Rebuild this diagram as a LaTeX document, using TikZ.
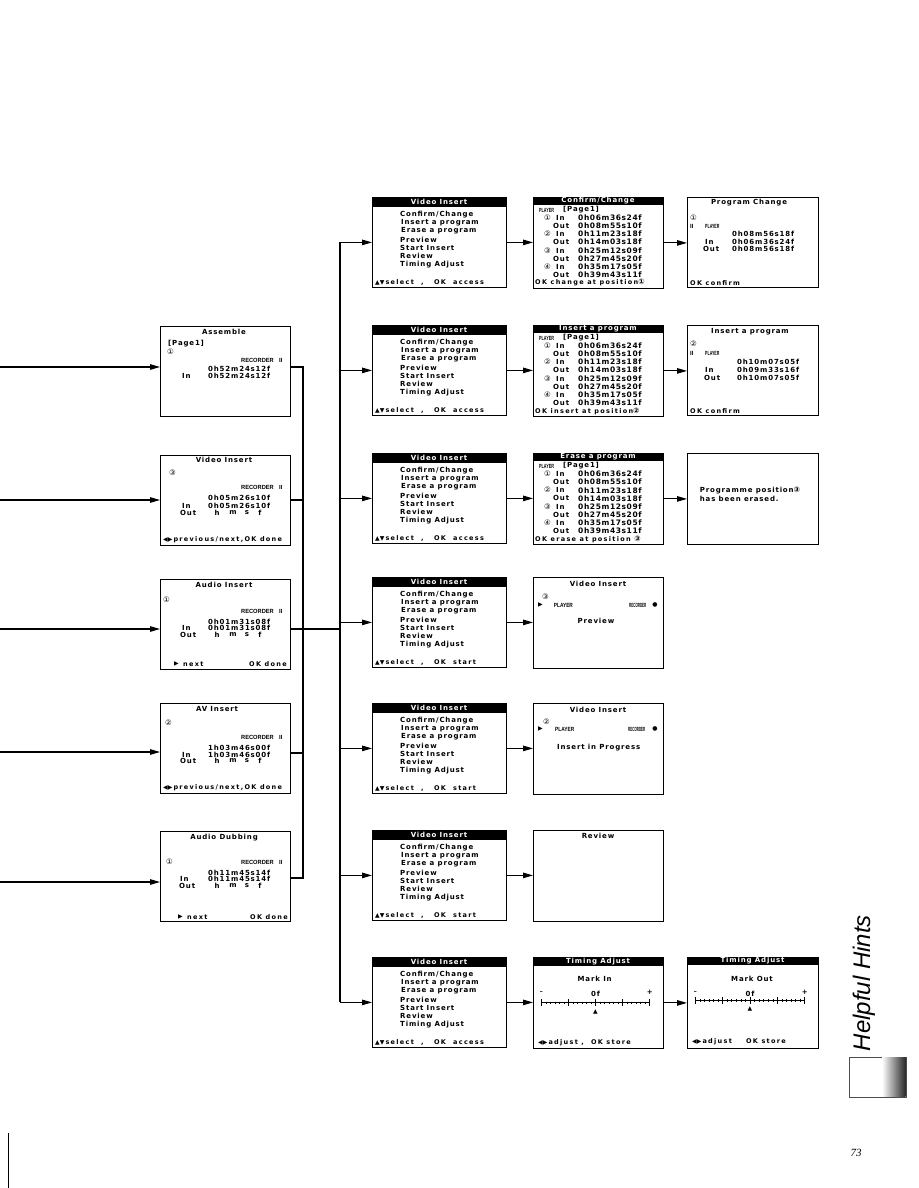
\documentclass[tikz,border=0pt]{standalone}
\usepackage{fontspec}
\usepackage{graphicx}
\usetikzlibrary{arrows.meta}
\newfontfamily\osdfam[LetterSpace=12]{DejaVu Sans}
\newfontfamily\osdfooter[LetterSpace=20]{DejaVu Sans}
\newfontfamily\osdtime[LetterSpace=8]{DejaVu Sans}
\newfontfamily\symfam{DejaVu Sans}
\newfontfamily\narfam{Liberation Sans}
\newfontfamily\hintfam{Liberation Sans}
\newfontfamily\numfam{Liberation Serif}
\newcommand\os{\osdfam\bfseries\fontsize{7}{8}\selectfont}
\newcommand\osb{\osdtime\bfseries\fontsize{7.5}{8}\selectfont}
\newcommand\osf{\osdfooter\bfseries\fontsize{6.5}{7}\selectfont}
\newcommand\cn[1]{{\symfam\fontsize{7.5}{8}\selectfont#1}}
\newcommand\sy[1]{{\symfam\fontsize{6}{6}\selectfont#1}}
\newcommand\nar[2]{{\narfam\bfseries\fontsize{6}{6}\selectfont\scalebox{#1}[1]{#2}}}
\tikzset{
 scr/.style={draw,line width=0.8pt,inner sep=0pt,anchor=north west},
 tl/.style={anchor=west,inner sep=0pt,font=\os},
 tc/.style={anchor=center,inner sep=0pt,font=\os},
 tt/.style={anchor=west,inner sep=0pt,font=\osb},
 tf/.style={anchor=west,inner sep=0pt,font=\osf},
 sl/.style={anchor=west,inner sep=0pt},
 wire/.style={line width=1.1pt},
 arr/.style={line width=1.1pt,-{Triangle[length=10pt,width=5.5pt]}},
}
\newcommand\vimenu[4]{%
\begin{scope}[shift={(#2,#3)}]
\node[scr,minimum width=134pt,minimum height=90pt] (#1) at (0,0) {};
\fill (0,0) rectangle (134,9.5);
\node[tc,white] at (67,4.8) {Video Insert};
\node[tl] at (28,17.5) {Confirm/Change};
\node[tl] at (29,25.8) {Insert a program};
\node[tl] at (29,34.1) {Erase a program};
\node[tl] at (28,42.4) {Preview};
\node[tl] at (28,50.7) {Start Insert};
\node[tl] at (28,59) {Review};
\node[tl] at (28,67.3) {Timing Adjust};
\node[tf] at (3,85) {\sy{▲▼}\,select\ \ ,\ \ \ OK\ \ #4};
\end{scope}}
\newcommand\plist[5]{%
\begin{scope}[shift={(#2,#3)}]
\node[scr,minimum width=130pt,minimum height=91pt] (#1) at (0,0) {};
\fill (0,0) rectangle (130,8);
\node[tc,white] at (65,4) {#4};
\node[sl] at (6,13) {\nar{0.62}{PLAYER}};
\node[tl] at (30,13) {[Page1]};
\node[sl] at (11,21) {\cn{①}};
\node[tl] at (23,21) {In};
\node[tt] at (45,21) {0h06m36s24f};
\node[tl] at (20,29) {Out};
\node[tt] at (45,29) {0h08m55s10f};
\node[sl] at (11,37.2) {\cn{②}};
\node[tl] at (23,37.2) {In};
\node[tt] at (45,37.2) {0h11m23s18f};
\node[tl] at (20,45.2) {Out};
\node[tt] at (45,45.2) {0h14m03s18f};
\node[sl] at (11,53.5) {\cn{③}};
\node[tl] at (23,53.5) {In};
\node[tt] at (45,53.5) {0h25m12s09f};
\node[tl] at (20,61.5) {Out};
\node[tt] at (45,61.5) {0h27m45s20f};
\node[sl] at (11,70) {\cn{④}};
\node[tl] at (23,70) {In};
\node[tt] at (45,70) {0h35m17s05f};
\node[tl] at (20,78) {Out};
\node[tt] at (45,78) {0h39m43s11f};
\node[tf] at (2,86) {#5};
\end{scope}}
\newcommand\tscale[3]{%
\draw[line width=0.9pt] (#1,#3) -- (#2,#3);
\foreach \i in {0,...,24}{\draw[line width=0.6pt] ({#1+(#2-#1)*\i/24},{#3-1.2}) -- ({#1+(#2-#1)*\i/24},{#3+1.2});}
\foreach \i in {0,6,12,18,24}{\draw[line width=0.8pt] ({#1+(#2-#1)*\i/24},{#3-3.5}) -- ({#1+(#2-#1)*\i/24},{#3+3.5});}}
\newcommand\hmsf[1]{%
\node[tc] at (57,#1) {h};
\node[tc] at (73,#1) {m};
\node[tc] at (87,#1) {s};
\node[tc] at (100,#1) {f};}
\newcommand\recii[1]{%
\node[anchor=east,inner sep=0pt] at (114,#1) {\nar{0.95}{RECORDER}};
\node[sl] at (119,#1) {\nar{1}{II}};}
\begin{document}
\begin{tikzpicture}[x=1pt,y=-1pt]
\useasboundingbox (0,0) rectangle (918,1188);
\fill[white] (0,0) rectangle (918,1188);

% ---------------- left column ----------------
\begin{scope}[shift={(160,326)}]
\node[scr,minimum width=130pt,minimum height=90pt] (asm) at (0,0) {};
\node[tc] at (64,5.5) {Assemble};
\node[tl] at (8,17.5) {[Page1]};
\node[sl] at (7,26) {\cn{①}};
\recii{34.5}
\node[tl] at (48,42.5) {0h52m24s12f};
\node[tl] at (22,50) {In};
\node[tl] at (48,50) {0h52m24s12f};
\end{scope}

\begin{scope}[shift={(160,455)}]
\node[scr,minimum width=130pt,minimum height=90pt] (lvi) at (0,0) {};
\node[tc] at (64,4.8) {Video Insert};
\node[sl] at (9,18) {\cn{③}};
\recii{32.5}
\node[tl] at (48,43) {0h05m26s10f};
\node[tl] at (22,50.5) {In};
\node[tl] at (48,50.5) {0h05m26s10f};
\node[tl] at (20,58) {Out};
\hmsf{58}
\node[tf] at (3,84.5) {\sy{◀▶}\,previous/next,OK done};
\end{scope}

\begin{scope}[shift={(160,579)}]
\node[scr,minimum width=130pt,minimum height=90pt] (ain) at (0,0) {};
\node[tc] at (64,5.5) {Audio Insert};
\node[sl] at (3,21) {\cn{①}};
\recii{32.5}
\node[tl] at (48,42.5) {0h01m31s08f};
\node[tl] at (22,49) {In};
\node[tl] at (48,49) {0h01m31s08f};
\node[tl] at (20,55.5) {Out};
\hmsf{55.5}
\node[sl] at (14,85) {\sy{▶}};
\node[tf] at (23,85) {next};
\node[tf] at (89,85) {OK done};
\end{scope}

\begin{scope}[shift={(160,703)}]
\node[scr,minimum width=130pt,minimum height=90pt] (avi) at (0,0) {};
\node[tc] at (57,6) {AV Insert};
\node[sl] at (5,20) {\cn{②}};
\recii{34}
\node[tl] at (48,45) {1h03m46s00f};
\node[tl] at (22,51.5) {In};
\node[tl] at (48,51.5) {1h03m46s00f};
\node[tl] at (20,58) {Out};
\hmsf{58}
\node[tf] at (3,84.6) {\sy{◀▶}\,previous/next,OK done};
\end{scope}

\begin{scope}[shift={(160,831)}]
\node[scr,minimum width=130pt,minimum height=90pt] (dub) at (0,0) {};
\node[tc] at (64,6.5) {Audio Dubbing};
\node[sl] at (6,31) {\cn{①}};
\recii{31}
\node[tl] at (48,41.5) {0h11m45s14f};
\node[tl] at (20,48) {In};
\node[tl] at (48,48) {0h11m45s14f};
\node[tl] at (19,55) {Out};
\hmsf{55}
\node[sl] at (18,86) {\sy{▶}};
\node[tf] at (27,86) {next};
\node[tf] at (90,86) {OK done};
\end{scope}

% ---------------- column 2 ----------------
\vimenu{m1}{372}{197}{access}
\vimenu{m2}{372}{325}{access}
\vimenu{m3}{372}{453}{access}
\vimenu{m4}{372}{577}{start}
\vimenu{m5}{372}{703}{start}
\vimenu{m6}{372}{830}{start}
\vimenu{m7}{372}{957}{access}

% ---------------- column 3 ----------------
\plist{c1}{533}{197}{Confirm/Change}{OK change at position\cn{①}}
\plist{c2}{533}{325}{Insert a program}{OK insert at position\cn{②}}
\plist{c3}{533}{453}{Erase a program}{OK erase at position \cn{③}}

\begin{scope}[shift={(533,577)}]
\node[scr,minimum width=130pt,minimum height=91pt] (c4) at (0,0) {};
\node[tc] at (65,6.7) {Video Insert};
\node[sl] at (9,20) {\cn{③}};
\node[sl] at (5,28.3) {\sy{▶}};
\node[sl] at (20.7,28.3) {\nar{0.8}{PLAYER}};
\node[sl] at (96,28.3) {\nar{0.5}{RECORDER}};
\node[inner sep=0pt] at (122,28.3) {\sy{●}};
\node[tc] at (63,44) {Preview};
\end{scope}

\begin{scope}[shift={(533,703)}]
\node[scr,minimum width=130pt,minimum height=91pt] (c5) at (0,0) {};
\node[tc] at (65,6.7) {Video Insert};
\node[sl] at (10,18.3) {\cn{②}};
\node[sl] at (5,26) {\sy{▶}};
\node[sl] at (22,26) {\nar{0.8}{PLAYER}};
\node[sl] at (95,26) {\nar{0.5}{RECORDER}};
\node[inner sep=0pt] at (122,26) {\sy{●}};
\node[tc] at (65.7,44.3) {Insert in Progress};
\end{scope}

\begin{scope}[shift={(533,830)}]
\node[scr,minimum width=130pt,minimum height=91pt] (c6) at (0,0) {};
\node[tc] at (65,5.5) {Review};
\end{scope}

\begin{scope}[shift={(533,957)}]
\node[scr,minimum width=130pt,minimum height=91pt] (c7) at (0,0) {};
\fill (0,0) rectangle (130,8.5);
\node[tc,white] at (65,4.3) {Timing Adjust};
\node[tc] at (61.7,21.7) {Mark In};
\node[tc] at (8.3,35.5) {\sy{–}};
\node[tc] at (62.5,37) {0f};
\node[tc] at (116.7,35.5) {+};
\tscale{8.3}{116.7}{45.7}
\node[inner sep=0pt] at (62.5,55) {\sy{▲}};
\node[tf] at (5,85.7) {\sy{◀▶}\,adjust\ ,\ \ OK store};
\end{scope}

% ---------------- column 4 ----------------
\begin{scope}[shift={(687,197)}]
\node[scr,minimum width=131pt,minimum height=90pt] (d1) at (0,0) {};
\node[tc] at (62,6) {Program Change};
\node[sl] at (3,21) {\cn{①}};
\node[sl] at (3,29) {\nar{1}{II}};
\node[sl] at (18,29) {\nar{0.6}{PLAYER}};
\node[tl] at (45,37) {0h08m56s18f};
\node[tl] at (18,45) {In};
\node[tl] at (45,45) {0h06m36s24f};
\node[tl] at (16,52) {Out};
\node[tl] at (45,52) {0h08m56s18f};
\node[tf] at (3,86) {OK confirm};
\end{scope}

\begin{scope}[shift={(687,325)}]
\node[scr,minimum width=131pt,minimum height=90pt] (d2) at (0,0) {};
\node[tc] at (63,6.7) {Insert a program};
\node[sl] at (3,19) {\cn{②}};
\node[sl] at (3,28) {\nar{1}{II}};
\node[sl] at (18,28) {\nar{0.6}{PLAYER}};
\node[tl] at (50,37) {0h10m07s05f};
\node[tl] at (18,45) {In};
\node[tl] at (50,45) {0h09m33s16f};
\node[tl] at (17,53) {Out};
\node[tl] at (50,53) {0h10m07s05f};
\node[tf] at (3,86) {OK confirm};
\end{scope}

\begin{scope}[shift={(687,453)}]
\node[scr,minimum width=131pt,minimum height=91pt] (d3) at (0,0) {};
\node[tl] at (12.7,38) {Programme position\cn{③}};
\node[tl] at (12.7,46) {has been erased.};
\end{scope}

\begin{scope}[shift={(687,957)}]
\node[scr,minimum width=131pt,minimum height=91pt] (d7) at (0,0) {};
\fill (0,0) rectangle (131,8);
\node[tc,white] at (65.5,4) {Timing Adjust};
\node[tc] at (65,21.7) {Mark Out};
\node[tc] at (8.3,35.5) {\sy{–}};
\node[tc] at (63,37) {0f};
\node[tc] at (117.7,35.5) {+};
\tscale{8.3}{117.7}{43.3}
\node[inner sep=0pt] at (63,52) {\sy{▲}};
\node[tf] at (5,84.3) {\sy{◀▶}\,adjust\ \ \ \ OK store};
\end{scope}

% ---------------- connectors ----------------
\coordinate (s1) at (0,367);
\coordinate (s2) at (0,500);
\coordinate (s3) at (0,629);
\coordinate (s4) at (0,752);
\coordinate (s5) at (0,882);
\draw[arr] (s1) -- (s1 -| asm.west);
\draw[arr] (s2) -- (s2 -| lvi.west);
\draw[arr] (s3) -- (s3 -| ain.west);
\draw[arr] (s4) -- (s4 -| avi.west);
\draw[arr] (s5) -- (s5 -| dub.west);

\coordinate (j1) at (303,367);
\coordinate (j2) at (303,500);
\coordinate (j3) at (303,629);
\coordinate (j4) at (303,753);
\coordinate (j5) at (303,878);
\draw[wire] (j1 -| asm.east) -- (j1) -- (j5) -- (j5 -| dub.east);
\draw[wire] (j2 -| lvi.east) -- (j2);
\draw[wire] (j4 -| avi.east) -- (j4);

\coordinate (btop) at (340,242);
\coordinate (bbot) at (340,1002);
\coordinate (bmid) at (340,629);
\draw[wire] (btop) -- (bbot);
\draw[wire] (j3 -| ain.east) -- (bmid);
\foreach \m in {m1,m2,m3,m4,m5,m6,m7}{\draw[arr] (\m.west -| btop) -- (\m.west);}
\foreach \m/\c in {m1/c1,m2/c2,m3/c3,m4/c4,m5/c5,m6/c6,m7/c7}{\draw[arr] (\m.east) -- (\m.east -| \c.west);}
\foreach \c/\d in {c1/d1,c2/d2,c3/d3,c7/d7}{\draw[arr] (\c.east) -- (\c.east -| \d.west);}

% ---------------- side tab and page ----------------
\node[rotate=90,anchor=base,inner sep=0pt,font=\hintfam\itshape\fontsize{24}{24}\selectfont] (hh) at (870,983) {Helpful Hints};
\node[draw=black!70,line width=0.6pt,minimum width=57pt,minimum height=40pt,anchor=north west,inner sep=0pt] (gbox) at (849,1057) {};
\shade[left color=white,right color=black!85] (882,1057.5) rectangle (905.7,1096.7);
\node[inner sep=0pt,font=\numfam\itshape\fontsize{11}{11}\selectfont] (pg) at (856,1153) {73};
\coordinate (v1) at (8,1133);
\coordinate (v2) at (8,1188);
\draw[line width=0.8pt] (v1) -- (v2);
\end{tikzpicture}
\end{document}
